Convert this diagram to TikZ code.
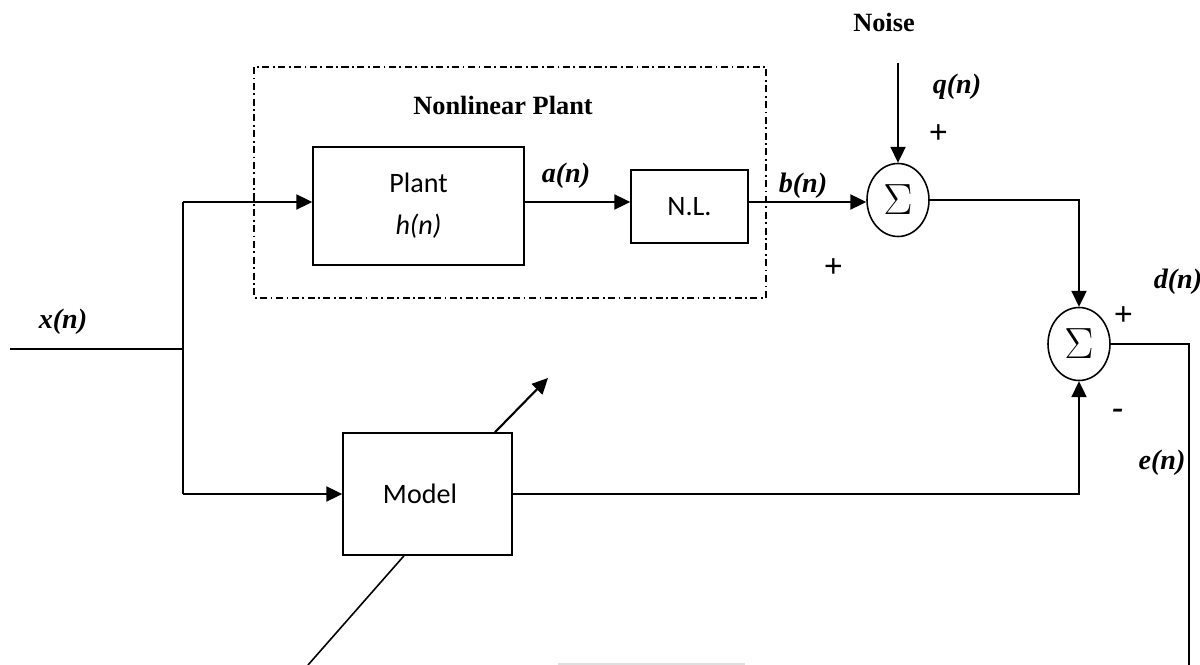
\documentclass[tikz,border=0pt]{standalone}
\usepackage{fontspec}
\setmainfont{Liberation Serif}[BoldFont={Liberation Serif Bold}, ItalicFont={Liberation Serif Italic},
  BoldItalicFont={Liberation Serif Bold Italic}]
\newfontfamily\calibri{Carlito}
\usetikzlibrary{arrows.meta, positioning, shapes.geometric, calc}

\begin{document}
\begin{tikzpicture}[x=0.02cm, y=-0.02cm, >={Triangle[length=9pt, width=8.5pt]},
    block/.style={draw, line width=0.9pt, font=\calibri\fontsize{16}{19}\selectfont, align=center},
    summer/.style={draw, ellipse, line width=0.9pt, minimum width=1.24cm, minimum height=1.46cm,
                   inner sep=0pt, font=\fontsize{25}{27}\selectfont},
    conn/.style={line width=1.2pt},
    sig/.style={font=\bfseries\itshape\fontsize{16}{19}\selectfont},
    pm/.style={font=\bfseries\itshape\fontsize{19}{21}\selectfont},
    title/.style={font=\bfseries\fontsize{15}{18}\selectfont}]
  \useasboundingbox (0,0) rectangle (1200,665);

  % nonlinear plant frame
  \draw[line width=0.8pt, dash pattern=on 4pt off 2pt on 1pt off 2pt] (254,67) rectangle (766,298);
  \node[title] (nltitle) at (503,105) {Nonlinear Plant};

  % blocks
  \node[block, minimum width=4.22cm, minimum height=2.36cm] (plant) at (418.5,206)
       {Plant\\[5pt]\textit{h(n)}};
  \node[block, minimum width=2.34cm, minimum height=1.46cm] (nl) at (689.5,206.5) {N.L.};
  \node[block, minimum width=3.38cm, minimum height=2.44cm] (model) at (427.5,494) {\hspace*{-0.3cm}Model};
  \node[summer] (sumA) at (898,200) {$\Sigma$};
  \node[summer] (sumB) at (1079,344) {$\Sigma$};

  % free ends
  \coordinate (xin) at (10,349);
  \coordinate (split) at (183,349);
  \coordinate (jtop) at (183,202);
  \coordinate (jbot) at (183,494);
  \coordinate (qin) at (898,63);
  \coordinate (eout) at (1189,665);
  \coordinate (adjtip) at (548,378);
  \coordinate (adjtail) at (308,665);

  % connectors
  \draw[conn] (xin) -- (split);
  \draw[conn] (jtop) -- (jbot);
  \draw[conn, ->] (jtop) -- (jtop -| plant.west);
  \draw[conn, ->] (jbot) -- (jbot -| model.west);
  \draw[conn, ->] (jtop -| plant.east) -- (jtop -| nl.west);
  \draw[conn, ->] (jtop -| nl.east) -- (jtop -| sumA.west);
  \draw[conn, ->] (qin) -- (sumA.north);
  \draw[conn, ->] (sumA.east) -| (sumB.north);
  \draw[conn, ->] (model.east) -| (sumB.south);
  \draw[line width=0.9pt] (sumB.east) -| (eout);
  \draw[conn, ->] ([xshift=1.35cm]model.north) -- (adjtip);
  \draw[line width=0.9pt] ([xshift=-0.47cm]model.south) -- (adjtail);
  \draw[gray!25, line width=0.8pt] (558,664) -- (745,664);

  % labels
  \node[sig] (xlab) at (63,322) {x(n)};
  \node[sig] (alab) at (566,176) {a(n)};
  \node[sig] (blab) at (803,186) {b(n)};
  \node[pm] (bplus) at (833,268) {+};
  \node[title] (noise) at (884,22) {Noise};
  \node[sig] (qlab) at (957,87) {q(n)};
  \node[pm] (qplus) at (938,134) {+};
  \node[sig] (dlab) at (1178,282) {d(n)};
  \node[pm] (dplus) at (1123,316) {+};
  \node[pm] (eminus) at (1118,414) {-};
  \node[sig] (elab) at (1162,463) {e(n)};
\end{tikzpicture}
\end{document}
